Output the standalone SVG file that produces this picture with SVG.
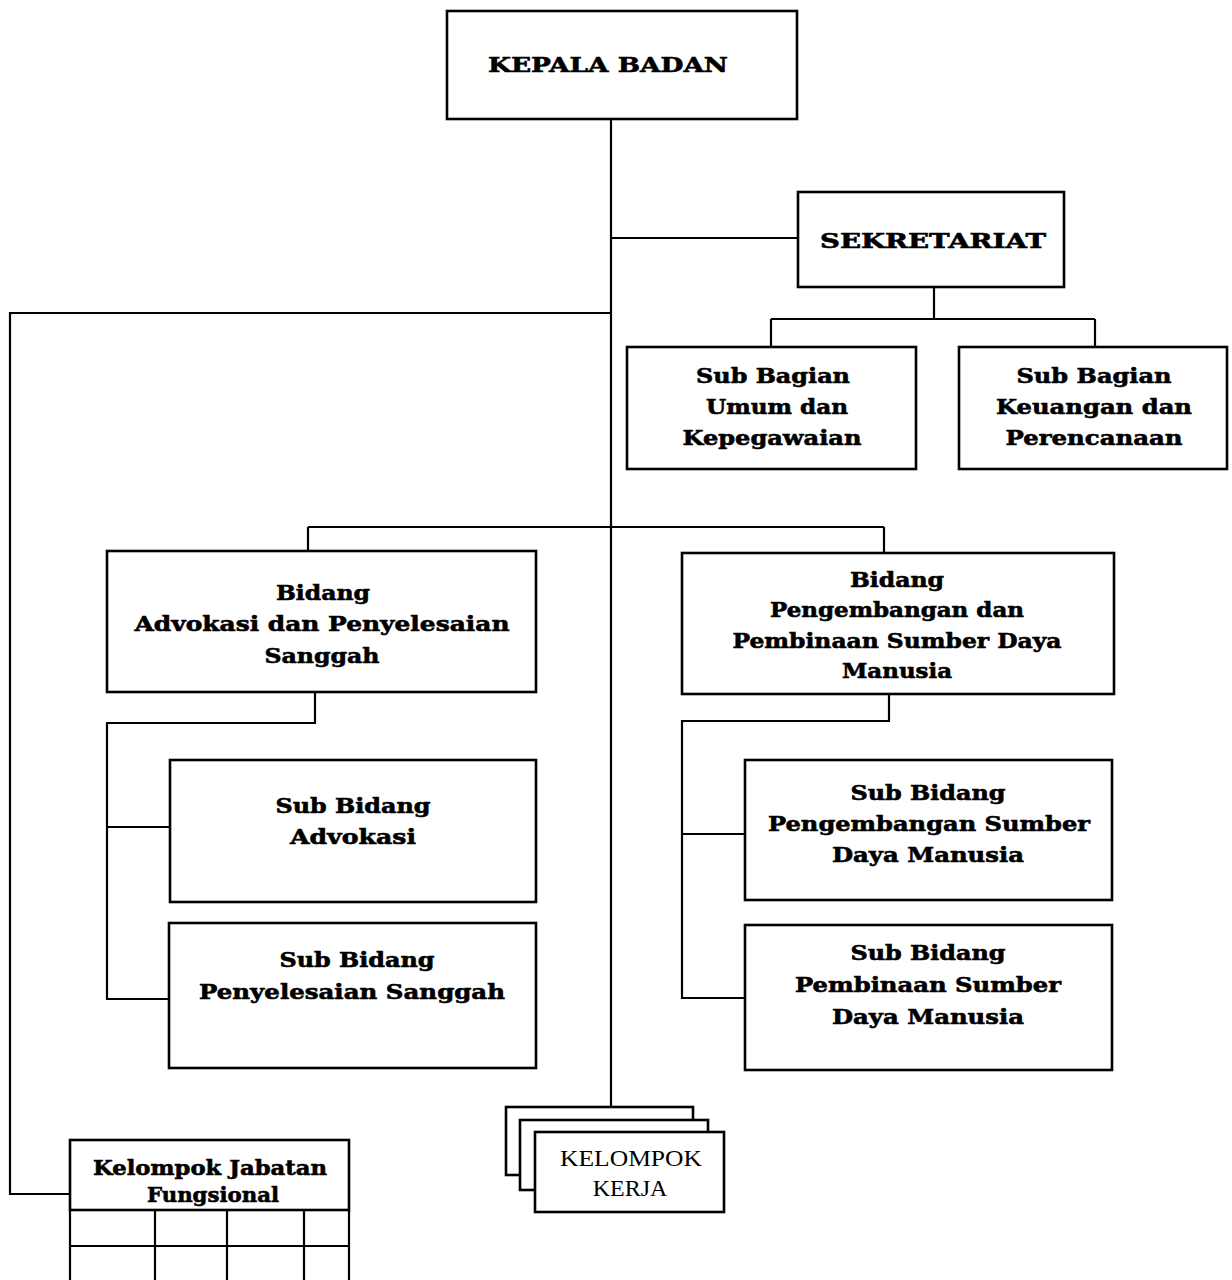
<svg xmlns="http://www.w3.org/2000/svg" width="1232" height="1280" viewBox="0 0 1232 1280">
<style>
.box{fill:#fff;stroke:#000;stroke-width:2.6}
.ln{fill:none;stroke:#000;stroke-width:2.2}
.t{font-family:"DejaVu Serif","Liberation Serif",serif;font-weight:bold;font-size:21px;text-anchor:middle;fill:#000;stroke:#000;stroke-width:0.6}
.r{font-family:"Liberation Serif","Times New Roman",serif;font-size:24px;text-anchor:middle;fill:#000}
</style>
<rect width="1232" height="1280" fill="#fff"/>
<g id="connectors">
<path class="ln" d="M611,119 V1107"/>
<path class="ln" d="M611,238 H798"/>
<path class="ln" d="M611,313 H10 V1194 H70"/>
<path class="ln" d="M934,287 V319 M771,319 H1095 M771,319 V347 M1095,319 V347"/>
<path class="ln" d="M308,527 H884 M308,527 V551 M884,527 V553"/>
<path class="ln" d="M315,692 V723 H107 V999 H170 M107,827 H170"/>
<path class="ln" d="M889,694 V721 H682 V998 H745 M682,834 H745"/>
</g>
<g id="kepala-badan">
<rect class="box" x="447" y="11" width="350" height="108"/>
<text class="t" x="608" y="72" textLength="240" lengthAdjust="spacingAndGlyphs">KEPALA BADAN</text>
</g>
<g id="sekretariat">
<rect class="box" x="798" y="192" width="266" height="95"/>
<text class="t" x="933" y="248" textLength="226" lengthAdjust="spacingAndGlyphs">SEKRETARIAT</text>
</g>
<g id="sub-bagian-umum">
<rect class="box" x="627" y="347" width="289" height="122"/>
<text class="t" x="773" y="383" textLength="154" lengthAdjust="spacingAndGlyphs">Sub Bagian</text>
<text class="t" x="777" y="414" textLength="142" lengthAdjust="spacingAndGlyphs">Umum dan</text>
<text class="t" x="772" y="445" textLength="179" lengthAdjust="spacingAndGlyphs">Kepegawaian</text>
</g>
<g id="sub-bagian-keuangan">
<rect class="box" x="959" y="347" width="268" height="122"/>
<text class="t" x="1094" y="383" textLength="155" lengthAdjust="spacingAndGlyphs">Sub Bagian</text>
<text class="t" x="1094" y="414" textLength="196" lengthAdjust="spacingAndGlyphs">Keuangan dan</text>
<text class="t" x="1094" y="445" textLength="177" lengthAdjust="spacingAndGlyphs">Perencanaan</text>
</g>
<g id="bidang-advokasi">
<rect class="box" x="107" y="551" width="429" height="141"/>
<text class="t" x="323" y="600" textLength="94" lengthAdjust="spacingAndGlyphs">Bidang</text>
<text class="t" x="322" y="631" textLength="375" lengthAdjust="spacingAndGlyphs">Advokasi dan Penyelesaian</text>
<text class="t" x="322" y="663" textLength="115" lengthAdjust="spacingAndGlyphs">Sanggah</text>
</g>
<g id="bidang-pengembangan">
<rect class="box" x="682" y="553" width="432" height="141"/>
<text class="t" x="897" y="587" textLength="94" lengthAdjust="spacingAndGlyphs">Bidang</text>
<text class="t" x="897" y="617" textLength="254" lengthAdjust="spacingAndGlyphs">Pengembangan dan</text>
<text class="t" x="897" y="648" textLength="329" lengthAdjust="spacingAndGlyphs">Pembinaan Sumber Daya</text>
<text class="t" x="897" y="678" textLength="110" lengthAdjust="spacingAndGlyphs">Manusia</text>
</g>
<g id="sub-bidang-advokasi">
<rect class="box" x="170" y="760" width="366" height="142"/>
<text class="t" x="353" y="813" textLength="155" lengthAdjust="spacingAndGlyphs">Sub Bidang</text>
<text class="t" x="353" y="844" textLength="126" lengthAdjust="spacingAndGlyphs">Advokasi</text>
</g>
<g id="sub-bidang-penyelesaian">
<rect class="box" x="169" y="923" width="367" height="145"/>
<text class="t" x="357" y="967" textLength="155" lengthAdjust="spacingAndGlyphs">Sub Bidang</text>
<text class="t" x="352" y="999" textLength="306" lengthAdjust="spacingAndGlyphs">Penyelesaian Sanggah</text>
</g>
<g id="sub-bidang-pengembangan-sdm">
<rect class="box" x="745" y="760" width="367" height="140"/>
<text class="t" x="928" y="800" textLength="155" lengthAdjust="spacingAndGlyphs">Sub Bidang</text>
<text class="t" x="929" y="831" textLength="322" lengthAdjust="spacingAndGlyphs">Pengembangan Sumber</text>
<text class="t" x="928" y="862" textLength="192" lengthAdjust="spacingAndGlyphs">Daya Manusia</text>
</g>
<g id="sub-bidang-pembinaan-sdm">
<rect class="box" x="745" y="925" width="367" height="145"/>
<text class="t" x="928" y="960" textLength="155" lengthAdjust="spacingAndGlyphs">Sub Bidang</text>
<text class="t" x="928" y="992" textLength="266" lengthAdjust="spacingAndGlyphs">Pembinaan Sumber</text>
<text class="t" x="928" y="1024" textLength="192" lengthAdjust="spacingAndGlyphs">Daya Manusia</text>
</g>
<g id="kelompok-kerja">
<rect class="box" x="506" y="1107" width="187" height="68"/>
<rect class="box" x="520" y="1120" width="188" height="70"/>
<rect class="box" x="535" y="1132" width="189" height="80"/>
<text class="r" x="631" y="1166" textLength="142" lengthAdjust="spacingAndGlyphs">KELOMPOK</text>
<text class="r" x="630" y="1196">KERJA</text>
</g>
<g id="kelompok-jabatan-fungsional">
<rect class="box" x="70" y="1140" width="279" height="70"/>
<text class="t" x="210" y="1175" textLength="234" lengthAdjust="spacingAndGlyphs">Kelompok Jabatan</text>
<text class="t" x="213" y="1202" textLength="132" lengthAdjust="spacingAndGlyphs">Fungsional</text>
<path class="ln" d="M70,1210 V1282 M155,1210 V1282 M227,1210 V1282 M304,1210 V1282 M349,1210 V1282 M70,1246 H349"/>
</g>
</svg>
